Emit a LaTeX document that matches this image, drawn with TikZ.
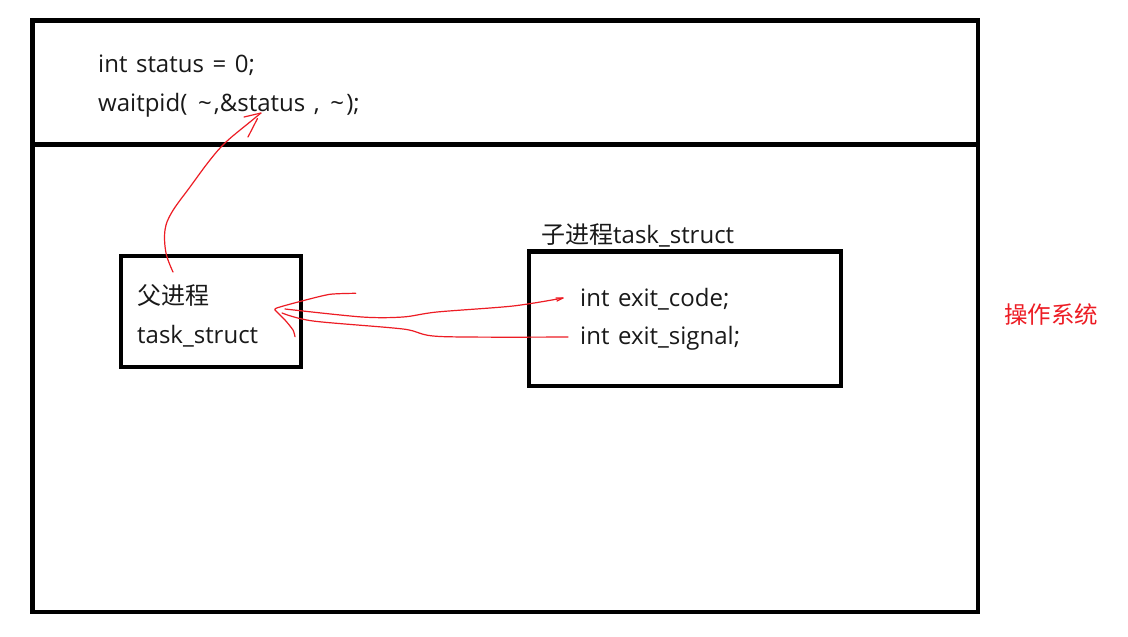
\documentclass[tikz,border=0pt]{standalone}
\usepackage{fontspec}
\setmainfont{Open Sans}
\newfontfamily\cjk{Noto Sans CJK SC}
\definecolor{pred}{RGB}{237,28,36}
\newcommand{\wtilde}{\hbox to 18pt{\hss\char`\~\hss}}
\newcommand{\mytextfont}{\fontsize{24}{28}\selectfont\spaceskip=8.6pt\relax}
\begin{document}
\begin{tikzpicture}[x=1pt,y=-1pt,
  frame/.style={draw=black, line width=4.8pt},
  boxnode/.style={draw=black, line width=4.8pt, inner sep=0pt},
  txt/.style={anchor=base west, inner sep=0pt, font=\mytextfont, text=black!90},
  ink/.style={draw=pred, line width=1.2pt, line cap=round, line join=round}]
\useasboundingbox[fill=white] (0,0) rectangle (1128,637);
% outer frame and divider
\draw[frame] (32.5,20.5) rectangle (978,612);
\draw[frame] (32.5,144.5) -- (978,144.5);
% boxes
\node[boxnode, minimum width=180pt, minimum height=111pt] (parent) at (211,311.5) {};
\node[boxnode, minimum width=312pt, minimum height=134.5pt] (child) at (685,318.75) {};
% texts
\node[txt] (l1) at (98,72) {int status = 0;};
\node[txt] (l2) at (98,111) {waitpid( \wtilde,\&status , \wtilde);};
\node[txt] (p1) at (137,304) {\cjk 父进程};
\node[txt] (p2) at (137,343) {task\_struct};
\node[txt] (ct) at (541,243) {{\cjk 子进程}task\_struct};
\node[txt] (c1) at (580,306) {int exit\_code;};
\node[txt] (c2) at (580,344) {int exit\_signal;};
\node[anchor=base west, inner sep=0pt, font=\cjk\fontsize{23.5}{28}\selectfont, text=pred] (os) at (1004,323) {操作系统};
% red freehand arrows
\coordinate (a0) at (173,272);
\coordinate (a1) at (261,113);
\draw[ink] plot[smooth, tension=0.6] coordinates {(a0) (166,253) (165,230) (172,212) (190,187) (210,160) (226,142) (250,122) (a1)};
\draw[ink] (244,117) -- (a1);
\draw[ink] (248,137) -- (257.5,118.5);
\coordinate (b0) at (285,309);
\coordinate (b1) at (563,298);
\draw[ink] plot[smooth, tension=0.5] coordinates {(b0) (362,317) (403,317) (437,312) (513,306) (b1)};
\draw[ink] (557,301) -- (b1) -- (556,298);
\coordinate (c0) at (282,313);
\coordinate (cc1) at (568,337);
\draw[ink] plot[smooth, tension=0.5] coordinates {(c0) (313,321) (403,329) (440,336.5) (cc1)};
\draw[ink] plot[smooth, tension=0.4] coordinates {(355.7,293.3) (330,294.3) (303,300.7) (276,308.3) (277,312) (285,320) (293,330) (295,336.7)};
\end{tikzpicture}
\end{document}
